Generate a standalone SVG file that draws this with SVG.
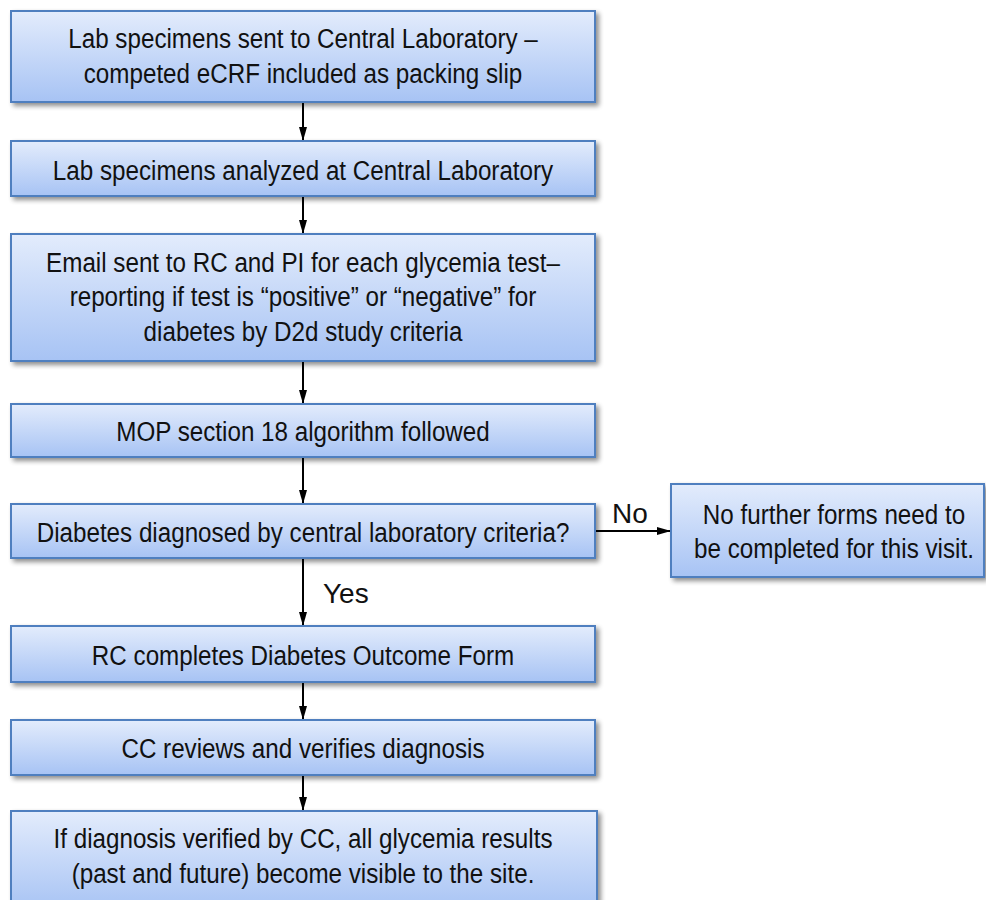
<svg xmlns="http://www.w3.org/2000/svg" width="986" height="900" viewBox="0 0 986 900">
<defs>
<linearGradient id="g" x1="0" y1="0" x2="0" y2="1">
<stop offset="0" stop-color="#e3ecfc"/>
<stop offset="1" stop-color="#a7c3f4"/>
</linearGradient>
<filter id="sh" x="-5%" y="-10%" width="115%" height="130%">
<feGaussianBlur in="SourceAlpha" stdDeviation="2.5"/>
<feOffset dx="3" dy="3" result="b"/>
<feComponentTransfer><feFuncA type="linear" slope="0.45"/></feComponentTransfer>
<feMerge><feMergeNode/><feMergeNode in="SourceGraphic"/></feMerge>
</filter>
<marker id="ah" markerWidth="14" markerHeight="9" refX="13" refY="4.5" orient="auto" markerUnits="userSpaceOnUse">
<path d="M0,0.5 L14,4.5 L0,8.5 z" fill="#000"/>
</marker>
</defs>
<style>
.box{fill:url(#g);stroke:#4f7fbf;stroke-width:2;filter:url(#sh)}
text{font-family:"Liberation Sans",Arial,sans-serif;font-size:28px;fill:#111;text-anchor:middle}
.lbl{text-anchor:start}
.c{stroke:#000;stroke-width:2;fill:none;marker-end:url(#ah)}
</style>
<rect width="986" height="900" fill="#fff"/>
<g id="connectors">
<line class="c" x1="303" y1="103" x2="303" y2="140"/>
<line class="c" x1="303" y1="197" x2="303" y2="233"/>
<line class="c" x1="303" y1="362" x2="303" y2="403"/>
<line class="c" x1="303" y1="458" x2="303" y2="503"/>
<line class="c" x1="303" y1="559" x2="303" y2="625"/>
<line class="c" x1="303" y1="683" x2="303" y2="719"/>
<line class="c" x1="303" y1="776" x2="303" y2="810"/>
<line class="c" x1="596" y1="531" x2="670" y2="531"/>
<text class="lbl" x="612" y="523">No</text>
<text class="lbl" x="323" y="603">Yes</text>
</g>
<g id="n1"><rect class="box" x="11" y="11" width="584" height="91"/>
<g transform="translate(303 0) scale(0.865 1)">
<text x="0" y="48">Lab specimens sent to Central Laboratory –</text>
<text x="0" y="83">competed eCRF included as packing slip</text></g></g>
<g id="n2"><rect class="box" x="11" y="141" width="584" height="55"/>
<g transform="translate(303 0) scale(0.865 1)">
<text x="0" y="180">Lab specimens analyzed at Central Laboratory</text></g></g>
<g id="n3"><rect class="box" x="11" y="234" width="584" height="127"/>
<g transform="translate(303 0) scale(0.865 1)">
<text x="0" y="272">Email sent to RC and PI for each glycemia test–</text>
<text x="0" y="306">reporting if test is “positive” or “negative” for</text>
<text x="0" y="341">diabetes by D2d study criteria</text></g></g>
<g id="n4"><rect class="box" x="11" y="404" width="584" height="53"/>
<g transform="translate(303 0) scale(0.865 1)">
<text x="0" y="441">MOP section 18 algorithm followed</text></g></g>
<g id="n5"><rect class="box" x="11" y="504" width="584" height="54"/>
<g transform="translate(303 0) scale(0.865 1)">
<text x="0" y="542">Diabetes diagnosed by central laboratory criteria?</text></g></g>
<g id="n6"><rect class="box" x="671" y="484" width="313" height="93"/>
<g transform="translate(834 0) scale(0.865 1)">
<text x="0" y="524">No further forms need to</text>
<text x="0" y="558">be completed for this visit.</text></g></g>
<g id="n7"><rect class="box" x="11" y="626" width="584" height="56"/>
<g transform="translate(303 0) scale(0.865 1)">
<text x="0" y="665">RC completes Diabetes Outcome Form</text></g></g>
<g id="n8"><rect class="box" x="11" y="720" width="584" height="55"/>
<g transform="translate(303 0) scale(0.865 1)">
<text x="0" y="758">CC reviews and verifies diagnosis</text></g></g>
<g id="n9"><rect class="box" x="11" y="811" width="586" height="100"/>
<g transform="translate(303 0) scale(0.865 1)">
<text x="0" y="848">If diagnosis verified by CC, all glycemia results</text>
<text x="0" y="883">(past and future) become visible to the site.</text></g></g>
</svg>
